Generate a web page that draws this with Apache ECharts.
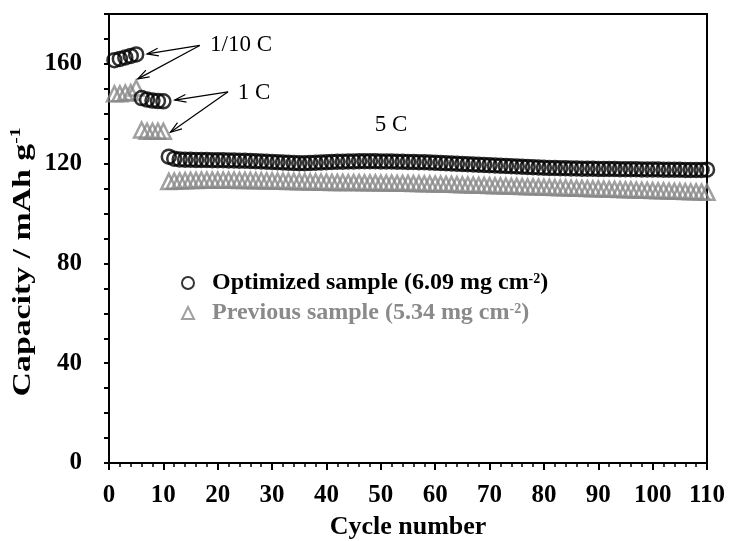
<!DOCTYPE html>
<html>
<head>
<meta charset="utf-8">
<script src="https://cdn.jsdelivr.net/npm/echarts@6/dist/echarts.min.js"></script>
<style>
html,body{margin:0;padding:0;background:#fff;}
#chart{width:730px;height:541px;}
</style>
</head>
<body>
<div id="chart"></div>
<script>
// ---- data ----
const seriesNames = ['Optimized sample (6.09 mg cm-2)', 'Previous sample (5.34 mg cm-2)'];
// Optimized sample: cycles 1-5 (1/10 C), 6-10 (1 C), 11-110 (5 C)
const optTenthC = [161.5, 162.0, 162.6, 163.2, 163.8];
const opt1C = [146.3, 145.7, 145.3, 145.1, 145.0];
const opt5C = [
  122.8, 122.0, 121.7, 121.6, 121.6, 121.5, 121.5, 121.5, 121.4, 121.4,
  121.4, 121.3, 121.3, 121.2, 121.2, 121.1, 121.0, 120.9, 120.8, 120.7,
  120.6, 120.5, 120.4, 120.3, 120.2, 120.2, 120.3, 120.4, 120.5, 120.6,
  120.7, 120.8, 120.8, 120.9, 120.9, 121.0, 121.0, 121.0, 121.0, 120.9,
  120.9, 120.9, 120.8, 120.8, 120.7, 120.7, 120.6, 120.6, 120.5, 120.4,
  120.3, 120.2, 120.1, 120.0, 119.9, 119.8, 119.7, 119.6, 119.5, 119.4,
  119.3, 119.2, 119.1, 119.0, 118.9, 118.8, 118.7, 118.6, 118.5, 118.4,
  118.3, 118.3, 118.2, 118.2, 118.1, 118.1, 118.0, 118.0, 118.0, 117.9,
  117.9, 117.9, 117.9, 117.8, 117.8, 117.8, 117.8, 117.7, 117.7, 117.7,
  117.7, 117.6, 117.6, 117.6, 117.6, 117.5, 117.5, 117.5, 117.5, 117.6
];
// Previous sample
const prevTenthC = [148.0, 148.0, 148.3, 148.5, 150.3];
const prev1C = [133.5, 133.0, 133.0, 133.0, 133.0];
const prev5C = [
  112.9, 113.0, 113.1, 113.2, 113.3, 113.3, 113.4, 113.4, 113.4, 113.4,
  113.4, 113.4, 113.4, 113.3, 113.3, 113.3, 113.2, 113.2, 113.1, 113.1,
  113.0, 113.0, 112.9, 112.9, 112.8, 112.8, 112.7, 112.7, 112.6, 112.6,
  112.5, 112.5, 112.5, 112.4, 112.4, 112.4, 112.3, 112.3, 112.3, 112.2,
  112.2, 112.2, 112.1, 112.1, 112.1, 112.0, 112.0, 111.9, 111.9, 111.8,
  111.8, 111.7, 111.7, 111.6, 111.5, 111.5, 111.4, 111.3, 111.3, 111.2,
  111.1, 111.1, 111.0, 110.9, 110.9, 110.8, 110.7, 110.7, 110.6, 110.5,
  110.5, 110.4, 110.3, 110.3, 110.2, 110.1, 110.1, 110.0, 109.9, 109.9,
  109.8, 109.7, 109.7, 109.6, 109.5, 109.5, 109.4, 109.3, 109.3, 109.2,
  109.1, 109.1, 109.0, 108.9, 108.9, 108.8, 108.7, 108.7, 108.6, 108.5
];
const xTickLabels = [0,10,20,30,40,50,60,70,80,90,100,110];
const yTickLabels = [0,40,80,120,160];
// annotations: [text, x, y, align] in data units ; arrows: [fromX, fromY, toX, toY]
const annoTexts = [['1/10 C', 18.6, 167.6, 'left'], ['1 C', 23.7, 148.2, 'left'], ['5 C', 51.9, 135.7, 'center']];
const annoArrows = [
  [16.7, 167.4, 7.0, 164.0],
  [16.7, 167.4, 5.3, 154.0],
  [21.9, 148.8, 12.1, 145.5],
  [21.9, 148.8, 11.3, 132.6]
];

// ---- build ----
function toPoints(startCycle, vals){ return vals.map((v,i)=>[startCycle+i, v]); }
const optData = toPoints(1, optTenthC).concat(toPoints(6, opt1C), toPoints(11, opt5C));
const prevData = toPoints(1, prevTenthC).concat(toPoints(6, prev1C), toPoints(11, prev5C));

const FONT = "'Liberation Serif','Times New Roman',serif";
const GRAY = '#8a8a8a';

const chart = echarts.init(document.getElementById('chart'), null, {renderer:'canvas'});
chart.setOption({
  animation:false,
  backgroundColor:'#fff',
  grid:{left:109, right:23, top:14, bottom:78, show:true, borderColor:'#000', borderWidth:2,
        containLabel:false, outerBoundsMode:'none'},
  xAxis:{
    type:'value', min:0, max:110, interval:10,
    axisLine:{show:true, onZero:false, lineStyle:{color:'#000', width:2}},
    axisTick:{show:true, length:7, inside:false, lineStyle:{color:'#000', width:2}},
    minorTick:{show:true, splitNumber:5, length:4, lineStyle:{color:'#000', width:1.5}},
    splitLine:{show:false},
    axisLabel:{margin:20, fontFamily:FONT, fontWeight:'bold', fontSize:25, color:'#000',
      formatter:v=> xTickLabels.includes(v) ? String(v) : ''},
    name:'Cycle number', nameLocation:'middle', nameGap:51,
    nameTextStyle:{fontFamily:FONT, fontWeight:'bold', fontSize:26, color:'#000'}
  },
  yAxis:{
    type:'value', min:0, max:180, interval:10,
    axisLine:{show:true, onZero:false, lineStyle:{color:'#000', width:2}},
    axisTick:{show:true, length:5, lineStyle:{color:'#000', width:2}},
    splitLine:{show:false},
    axisLabel:{margin:27, fontFamily:FONT, fontWeight:'bold', fontSize:25, color:'#000',
      formatter:v=> yTickLabels.includes(v) ? String(v) : ''}
  },
  legend:{
    orient:'vertical', left:181, top:270, itemWidth:12, itemHeight:12, itemGap:5, padding:0,
    selectedMode:false,
    data:[
      {name:seriesNames[0], icon:'circle', itemStyle:{color:'rgba(0,0,0,0)', borderColor:'#000', borderWidth:2}},
      {name:seriesNames[1], icon:'triangle', itemStyle:{color:'rgba(0,0,0,0)', borderColor:GRAY, borderWidth:2}}
    ],
    formatter:function(name){
      if(name===seriesNames[0]) return '{a|Optimized sample (6.09 mg cm}{s|-2}{b|)}';
      return '{g|Previous sample (5.34 mg cm}{gs|-2}{gb|)}';
    },
    textStyle:{
      fontFamily:FONT, fontWeight:'bold', fontSize:24,
      rich:{
        a:{fontFamily:FONT, fontWeight:'bold', fontSize:24, color:'#000', lineHeight:26, padding:[0,0,0,13]},
        s:{fontFamily:FONT, fontWeight:'bold', fontSize:14, color:'#000', lineHeight:26, verticalAlign:'top', padding:[2,0,0,0]},
        b:{fontFamily:FONT, fontWeight:'bold', fontSize:24, color:'#000', lineHeight:26},
        g:{fontFamily:FONT, fontWeight:'bold', fontSize:24, color:GRAY, lineHeight:26, padding:[0,0,0,13]},
        gs:{fontFamily:FONT, fontWeight:'bold', fontSize:14, color:GRAY, lineHeight:26, verticalAlign:'top', padding:[2,0,0,0]},
        gb:{fontFamily:FONT, fontWeight:'bold', fontSize:24, color:GRAY, lineHeight:26}
      }
    }
  },
  series:[
    {
      name:seriesNames[1], type:'scatter', data:prevData, symbol:'triangle', symbolSize:[15,15],
      itemStyle:{color:'rgba(0,0,0,0)', borderColor:GRAY, borderWidth:2.5}, silent:true, z:2
    },
    {
      name:seriesNames[0], type:'scatter', data:optData, symbol:'circle', symbolSize:14,
      itemStyle:{color:'rgba(0,0,0,0)', borderColor:'#000', borderWidth:2.5}, silent:true, z:3
    }
  ]
});

// annotations positioned through the chart's own scales
const g = [];
annoTexts.forEach(([t,x,y,al])=>{
  const p = chart.convertToPixel({gridIndex:0},[x,y]);
  g.push({type:'text', x:p[0], y:p[1], silent:true, z:10,
    style:{text:t, fontFamily:FONT, fontSize:23, fill:'#000', align:al, verticalAlign:'middle'}});
});
annoArrows.forEach(([x1,y1,x2,y2])=>{
  const a = chart.convertToPixel({gridIndex:0},[x1,y1]);
  const b = chart.convertToPixel({gridIndex:0},[x2,y2]);
  const ang = Math.atan2(a[1]-b[1], a[0]-b[0]);
  const L = 12, w = 0.33;
  const h1 = [b[0]+L*Math.cos(ang+w), b[1]+L*Math.sin(ang+w)];
  const h2 = [b[0]+L*Math.cos(ang-w), b[1]+L*Math.sin(ang-w)];
  g.push({type:'line', silent:true, z:10, shape:{x1:a[0],y1:a[1],x2:b[0],y2:b[1]}, style:{stroke:'#000', lineWidth:1.2}});
  g.push({type:'polyline', silent:true, z:10, shape:{points:[h1,b,h2]}, style:{stroke:'#000', lineWidth:1.2, fill:null}});
});
// y-axis title (rotated), stretched along its length to match reference
g.push({type:'text', x:23, y:262, rotation:Math.PI/2, scaleX:1.3, silent:true, z:10,
  style:{text:'{m|Capacity / mAh g}{s|-1}', align:'center', verticalAlign:'middle',
    rich:{m:{fontFamily:FONT, fontWeight:'bold', fontSize:26, fill:'#000', lineHeight:30},
          s:{fontFamily:FONT, fontWeight:'bold', fontSize:15, fill:'#000', lineHeight:30, verticalAlign:'top', padding:[1,0,0,0]}}}});
chart.setOption({graphic:g});
</script>
</body>
</html>
